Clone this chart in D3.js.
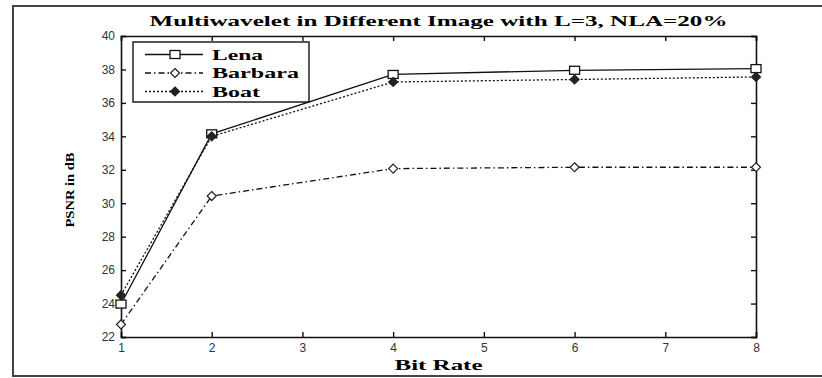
<!DOCTYPE html>
<html>
<head>
<meta charset="UTF-8">
<title>Multiwavelet PSNR</title>
<script src="https://cdn.jsdelivr.net/npm/d3@7"></script>
<style>
  body { margin: 0; background: #fff; }
  svg { display: block; }
</style>
</head>
<body>
<div id="chart"></div>
<script>
  // values
  var bitRates = [1, 2, 4, 6, 8];
  var lena    = [23.97, 34.15, 37.7, 37.95, 38.05];
  var barbara = [22.75, 30.43, 32.07, 32.15, 32.15];
  var boat    = [24.5, 34.0, 37.25, 37.4, 37.55];
  var xTicks = [1, 2, 3, 4, 5, 6, 7, 8];
  var yTicks = [22, 24, 26, 28, 30, 32, 34, 36, 38, 40];
  var seriesNames = ["Lena", "Barbara", "Boat"];

  var width = 822, height = 378;
  // plot box (note: "top" is a reserved window global, so prefixed names)
  var plotLeft = 121, plotRight = 756, plotTop = 36, plotBottom = 337;

  var svg = d3.select("#chart").append("svg")
      .attr("width", width)
      .attr("height", height);

  // outer frame
  svg.append("path")
      .attr("d", "M822,6 H13 V376 H822")
      .attr("fill", "none")
      .attr("stroke", "#444")
      .attr("stroke-width", 2);

  var x = d3.scaleLinear().domain([1, 8]).range([plotLeft, plotRight]);
  var y = d3.scaleLinear().domain([22, 40]).range([plotBottom, plotTop]);

  // axes with inward ticks (box style)
  var tickLen = 5;
  svg.append("g")
      .attr("transform", "translate(0," + plotBottom + ")")
      .call(d3.axisBottom(x).tickValues(xTicks).tickSize(-tickLen).tickPadding(6).tickFormat(d3.format("d")));
  svg.append("g")
      .attr("transform", "translate(0," + plotTop + ")")
      .call(d3.axisTop(x).tickValues(xTicks).tickSize(-tickLen).tickFormat(""));
  svg.append("g")
      .attr("transform", "translate(" + plotLeft + ",0)")
      .call(d3.axisLeft(y).tickValues(yTicks).tickSize(-tickLen).tickPadding(6).tickFormat(d3.format("d")));
  svg.append("g")
      .attr("transform", "translate(" + plotRight + ",0)")
      .call(d3.axisRight(y).tickValues(yTicks).tickSize(-tickLen).tickFormat(""));

  svg.selectAll(".domain").attr("stroke", "#111").attr("stroke-width", 1.6);
  svg.selectAll(".tick line").attr("stroke", "#111").attr("stroke-width", 1.4);
  svg.selectAll(".tick text")
      .attr("font-family", "Liberation Sans, Arial, sans-serif")
      .attr("font-size", 12)
      .attr("fill", "#333");

  // title and labels, glyphs stretched like the wide original lettering
  svg.append("text")
      .attr("x", (plotLeft + plotRight) / 2)
      .attr("y", 26)
      .attr("text-anchor", "middle")
      .attr("font-family", "Liberation Serif, Times New Roman, serif")
      .attr("font-weight", "bold")
      .attr("font-size", 15)
      .attr("textLength", 578)
      .attr("lengthAdjust", "spacingAndGlyphs")
      .text("Multiwavelet in Different Image with L=3, NLA=20%");

  svg.append("text")
      .attr("x", (plotLeft + plotRight) / 2)
      .attr("y", 370)
      .attr("text-anchor", "middle")
      .attr("font-family", "Liberation Serif, Times New Roman, serif")
      .attr("font-weight", "bold")
      .attr("font-size", 15)
      .attr("textLength", 88)
      .attr("lengthAdjust", "spacingAndGlyphs")
      .text("Bit Rate");

  svg.append("text")
      .attr("transform", "translate(74,190) rotate(-90)")
      .attr("text-anchor", "middle")
      .attr("font-family", "Liberation Serif, Times New Roman, serif")
      .attr("font-weight", "bold")
      .attr("font-size", 13)
      .attr("textLength", 75)
      .attr("lengthAdjust", "spacingAndGlyphs")
      .text("PSNR in dB");

  var series = [
    { name: "Lena", values: lena, dash: null, marker: "square", fill: "none", width: 51 },
    { name: "Barbara", values: barbara, dash: "6,3,1.5,3", marker: "diamond", fill: "none", width: 87 },
    { name: "Boat", values: boat, dash: "2,2", marker: "diamond", fill: "#222", width: 48 }
  ];

  var line = d3.line()
      .x(function(d, i) { return x(bitRates[i]); })
      .y(function(d) { return y(d); });

  function drawMarker(g, type, fill, cx, cy) {
    if (type === "square") {
      g.append("rect")
          .attr("x", cx - 5).attr("y", cy - 4)
          .attr("width", 10).attr("height", 8)
          .attr("fill", "#fff")
          .attr("stroke", "#111")
          .attr("stroke-width", 1.3);
    } else {
      g.append("path")
          .attr("d", "M" + cx + "," + (cy - 4.5) + " L" + (cx + 4.5) + "," + cy +
                     " L" + cx + "," + (cy + 4.5) + " L" + (cx - 4.5) + "," + cy + "Z")
          .attr("fill", fill === "none" ? "#fff" : fill)
          .attr("stroke", "#222")
          .attr("stroke-width", 1.2);
    }
  }

  series.forEach(function(s) {
    var g = svg.append("g");
    g.append("path")
        .datum(s.values)
        .attr("d", line)
        .attr("fill", "none")
        .attr("stroke", "#111")
        .attr("stroke-width", 1.3)
        .attr("stroke-dasharray", s.dash);
    s.values.forEach(function(v, i) {
      drawMarker(g, s.marker, s.fill, x(bitRates[i]), y(v));
    });
  });

  // legend
  var legend = svg.append("g");
  legend.append("rect")
      .attr("x", 133).attr("y", 42)
      .attr("width", 176).attr("height", 60)
      .attr("fill", "#fff")
      .attr("stroke", "#111")
      .attr("stroke-width", 1.4);

  series.forEach(function(s, i) {
    var ly = 54.5 + i * 18.5;
    legend.append("line")
        .attr("x1", 145).attr("x2", 203)
        .attr("y1", ly).attr("y2", ly)
        .attr("stroke", "#111")
        .attr("stroke-width", 1.3)
        .attr("stroke-dasharray", s.dash);
    drawMarker(legend, s.marker, s.fill, 175, ly);
    legend.append("text")
        .attr("x", 212)
        .attr("y", ly + 5)
        .attr("font-family", "Liberation Serif, Times New Roman, serif")
        .attr("font-weight", "bold")
        .attr("font-size", 15)
        .attr("textLength", s.width)
        .attr("lengthAdjust", "spacingAndGlyphs")
        .text(seriesNames[i]);
  });
</script>
</body>
</html>
